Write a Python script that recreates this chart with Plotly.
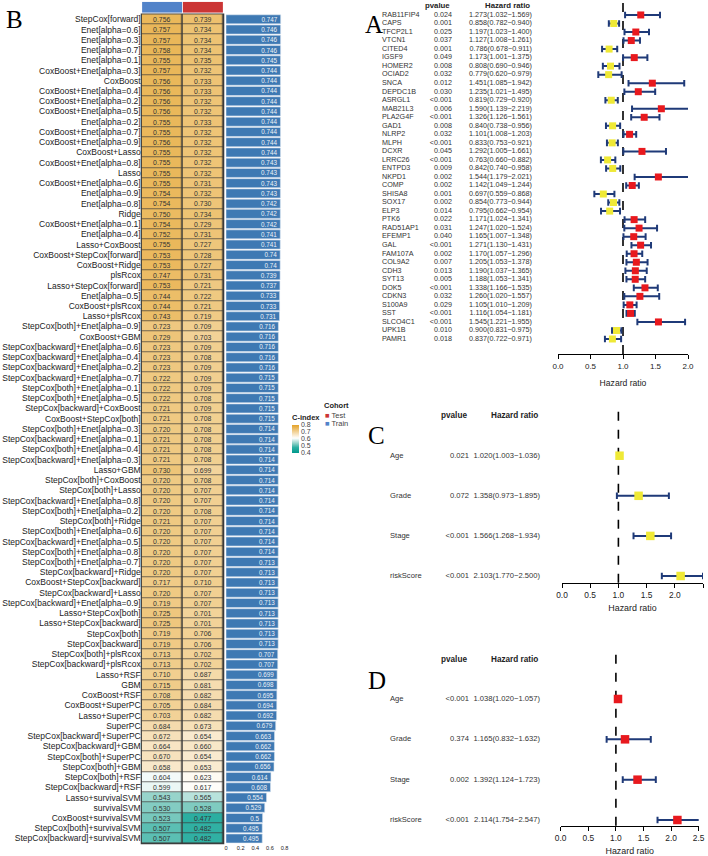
import plotly.graph_objects as go

# ---------------- data: panel B (C-index per model) ----------------
MODELS = [
    "StepCox[forward]", "Enet[alpha=0.6]", "Enet[alpha=0.3]", "Enet[alpha=0.7]", "Enet[alpha=0.1]",
    "CoxBoost+Enet[alpha=0.3]", "CoxBoost", "CoxBoost+Enet[alpha=0.4]", "CoxBoost+Enet[alpha=0.2]",
    "CoxBoost+Enet[alpha=0.5]", "Enet[alpha=0.2]", "CoxBoost+Enet[alpha=0.7]", "CoxBoost+Enet[alpha=0.9]",
    "CoxBoost+Lasso", "CoxBoost+Enet[alpha=0.8]", "Lasso", "CoxBoost+Enet[alpha=0.6]", "Enet[alpha=0.9]",
    "Enet[alpha=0.8]", "Ridge", "CoxBoost+Enet[alpha=0.1]", "Enet[alpha=0.4]", "Lasso+CoxBoost",
    "CoxBoost+StepCox[forward]", "CoxBoost+Ridge", "plsRcox", "Lasso+StepCox[forward]", "Enet[alpha=0.5]",
    "CoxBoost+plsRcox", "Lasso+plsRcox", "StepCox[both]+Enet[alpha=0.9]", "CoxBoost+GBM",
    "StepCox[backward]+Enet[alpha=0.6]", "StepCox[backward]+Enet[alpha=0.4]",
    "StepCox[backward]+Enet[alpha=0.2]", "StepCox[backward]+Enet[alpha=0.7]",
    "StepCox[both]+Enet[alpha=0.1]", "StepCox[both]+Enet[alpha=0.5]", "StepCox[backward]+CoxBoost",
    "CoxBoost+StepCox[both]", "StepCox[both]+Enet[alpha=0.3]", "StepCox[backward]+Enet[alpha=0.1]",
    "StepCox[both]+Enet[alpha=0.4]", "StepCox[backward]+Enet[alpha=0.3]", "Lasso+GBM",
    "StepCox[both]+CoxBoost", "StepCox[both]+Lasso", "StepCox[backward]+Enet[alpha=0.8]",
    "StepCox[both]+Enet[alpha=0.2]", "StepCox[both]+Ridge", "StepCox[both]+Enet[alpha=0.6]",
    "StepCox[backward]+Enet[alpha=0.5]", "StepCox[both]+Enet[alpha=0.8]", "StepCox[both]+Enet[alpha=0.7]",
    "StepCox[backward]+Ridge", "CoxBoost+StepCox[backward]", "StepCox[backward]+Lasso",
    "StepCox[backward]+Enet[alpha=0.9]", "Lasso+StepCox[both]", "Lasso+StepCox[backward]",
    "StepCox[both]", "StepCox[backward]", "StepCox[both]+plsRcox", "StepCox[backward]+plsRcox",
    "Lasso+RSF", "GBM", "CoxBoost+RSF", "CoxBoost+SuperPC", "Lasso+SuperPC", "SuperPC",
    "StepCox[backward]+SuperPC", "StepCox[backward]+GBM", "StepCox[both]+SuperPC", "StepCox[both]+GBM",
    "StepCox[both]+RSF", "StepCox[backward]+RSF", "Lasso+survivalSVM", "survivalSVM",
    "CoxBoost+survivalSVM", "StepCox[both]+survivalSVM", "StepCox[backward]+survivalSVM",
]
TRAIN_CINDEX = [
    0.756, 0.757, 0.757, 0.758, 0.755, 0.757, 0.756, 0.756, 0.756, 0.756, 0.755, 0.755, 0.756, 0.755,
    0.755, 0.755, 0.755, 0.754, 0.754, 0.750, 0.754, 0.752, 0.755, 0.753, 0.753, 0.747, 0.753, 0.744,
    0.744, 0.743, 0.723, 0.729, 0.723, 0.723, 0.723, 0.722, 0.722, 0.722, 0.721, 0.721, 0.720, 0.721,
    0.721, 0.721, 0.730, 0.720, 0.720, 0.720, 0.720, 0.721, 0.720, 0.720, 0.720, 0.720, 0.720, 0.717,
    0.720, 0.719, 0.725, 0.725, 0.719, 0.719, 0.713, 0.713, 0.710, 0.715, 0.708, 0.705, 0.703, 0.684,
    0.672, 0.664, 0.670, 0.658, 0.604, 0.599, 0.543, 0.530, 0.523, 0.507, 0.507,
]
TEST_CINDEX = [
    0.739, 0.734, 0.734, 0.734, 0.735, 0.732, 0.733, 0.733, 0.732, 0.732, 0.733, 0.732, 0.732, 0.732,
    0.732, 0.732, 0.731, 0.732, 0.730, 0.734, 0.729, 0.731, 0.727, 0.728, 0.727, 0.731, 0.721, 0.722,
    0.721, 0.719, 0.709, 0.703, 0.709, 0.708, 0.709, 0.709, 0.709, 0.708, 0.709, 0.708, 0.708, 0.708,
    0.708, 0.708, 0.699, 0.708, 0.707, 0.707, 0.708, 0.707, 0.707, 0.707, 0.707, 0.707, 0.707, 0.710,
    0.707, 0.707, 0.701, 0.701, 0.706, 0.706, 0.702, 0.702, 0.687, 0.681, 0.682, 0.684, 0.682, 0.673,
    0.654, 0.660, 0.654, 0.653, 0.623, 0.617, 0.565, 0.528, 0.477, 0.482, 0.482,
]
MEAN_CINDEX = [
    0.747, 0.746, 0.746, 0.746, 0.745, 0.744, 0.744, 0.744, 0.744, 0.744, 0.744, 0.744, 0.744, 0.744,
    0.743, 0.743, 0.743, 0.743, 0.742, 0.742, 0.742, 0.741, 0.741, 0.74, 0.74, 0.739, 0.737, 0.733,
    0.733, 0.731, 0.716, 0.716, 0.716, 0.716, 0.716, 0.715, 0.715, 0.715, 0.715, 0.715, 0.714, 0.714,
    0.714, 0.714, 0.714, 0.714, 0.714, 0.714, 0.714, 0.714, 0.714, 0.714, 0.714, 0.713, 0.713, 0.713,
    0.713, 0.713, 0.713, 0.713, 0.713, 0.713, 0.707, 0.707, 0.699, 0.698, 0.695, 0.694, 0.692, 0.679,
    0.663, 0.662, 0.662, 0.656, 0.614, 0.608, 0.554, 0.529, 0.5, 0.495, 0.495,
]
COHORTS = ["Train", "Test"]
COHORT_COLORS = {"Train": "#5283C9", "Test": "#CB3535"}

# ---------------- data: panel A (univariate genes) ----------------
GENES = [
    "RAB11FIP4", "CAPS", "TFCP2L1", "VTCN1", "CITED4", "IGSF9", "HOMER2", "OCIAD2", "SNCA", "DEPDC1B",
    "ASRGL1", "MAB21L3", "PLA2G4F", "GAD1", "NLRP2", "MLPH", "DCXR", "LRRC26", "ENTPD3", "NKPD1",
    "COMP", "SHISA8", "SOX17", "ELP3", "PTK6", "RAD51AP1", "EFEMP1", "GAL", "FAM107A", "COL9A2",
    "CDH3", "SYT13", "DOK5", "CDKN3", "S100A9", "SST", "SLCO4C1", "UPK1B", "PAMR1",
]
GENE_PVALUE = [
    "0.024", "0.001", "0.025", "0.037", "0.001", "0.049", "0.008", "0.032", "0.012", "0.030",
    "<0.001", "0.006", "<0.001", "0.008", "0.032", "<0.001", "0.045", "<0.001", "0.009", "0.002",
    "0.002", "0.001", "0.002", "0.014", "0.022", "0.031", "0.040", "<0.001", "0.002", "0.007",
    "0.013", "0.005", "<0.001", "0.032", "0.029", "<0.001", "<0.001", "0.010", "0.018",
]
GENE_HR = [
    1.273, 0.858, 1.197, 1.127, 0.786, 1.173, 0.808, 0.779, 1.451, 1.235, 0.819, 1.590, 1.326, 0.840,
    1.101, 0.833, 1.292, 0.763, 0.842, 1.544, 1.142, 0.697, 0.854, 0.795, 1.171, 1.247, 1.165, 1.271,
    1.170, 1.205, 1.190, 1.188, 1.338, 1.260, 1.105, 1.116, 1.545, 0.900, 0.837,
]
GENE_LOWER = [
    1.032, 0.782, 1.023, 1.008, 0.678, 1.001, 0.690, 0.620, 1.085, 1.021, 0.729, 1.139, 1.126, 0.738,
    1.008, 0.753, 1.005, 0.660, 0.740, 1.179, 1.049, 0.559, 0.773, 0.662, 1.024, 1.020, 1.007, 1.130,
    1.057, 1.053, 1.037, 1.053, 1.166, 1.020, 1.010, 1.054, 1.221, 0.831, 0.722,
]
GENE_UPPER = [
    1.569, 0.940, 1.400, 1.261, 0.911, 1.375, 0.946, 0.979, 1.942, 1.495, 0.920, 2.219, 1.561, 0.956,
    1.203, 0.921, 1.661, 0.882, 0.958, 2.021, 1.244, 0.868, 0.944, 0.954, 1.341, 1.524, 1.348, 1.431,
    1.296, 1.378, 1.365, 1.341, 1.535, 1.557, 1.209, 1.181, 1.955, 0.975, 0.971,
]

# ---------------- data: panels C / D (clinical variables) ----------------
CLIN_VARS = ["Age", "Grade", "Stage", "riskScore"]
UNI_PVALUE = ["0.021", "0.072", "<0.001", "<0.001"]
UNI_HR = [1.020, 1.358, 1.566, 2.103]
UNI_LOWER = [1.003, 0.973, 1.268, 1.770]
UNI_UPPER = [1.036, 1.895, 1.934, 2.500]
MULTI_PVALUE = ["<0.001", "0.374", "0.002", "<0.001"]
MULTI_HR = [1.038, 1.165, 1.392, 2.114]
MULTI_LOWER = [1.020, 0.832, 1.124, 1.754]
MULTI_UPPER = [1.057, 1.632, 1.723, 2.547]

# ---------------- style ----------------
W, H = 708, 856
FONT = "Liberation Sans"
SERIF = "Liberation Serif"
TXT = "#222222"
NAVY = "#1F3A78"
RED = "#E8191E"
YELLOW = "#EFE936"
CINDEX_SCALE = [[0.0, "#00998C"], [0.2, "#2DAFA2"], [0.33, "#86CDC3"],
                [0.53, "#FFFFFF"], [1.0, "#E4A228"]]


def fx(p):
    return p / W


def fy(p):
    return 1 - p / H


fig = go.Figure()
layout = dict(
    width=W, height=H, margin=dict(l=0, r=0, t=0, b=0, autoexpand=False),
    paper_bgcolor="white", plot_bgcolor="rgba(0,0,0,0)",
    font=dict(family=FONT, color=TXT), barmode="overlay", showlegend=False,
    annotations=[], shapes=[],
)

# ================= panel B =================
fig.add_trace(go.Heatmap(
    z=[[tr, te] for tr, te in zip(TRAIN_CINDEX, TEST_CINDEX)],
    x=COHORTS, y=MODELS, coloraxis="coloraxis",
    xgap=1.6, ygap=0.7,
    texttemplate="%{z:.3f}", textfont=dict(family=FONT, size=6.9, color="#333333"),
    hoverinfo="skip", xaxis="x", yaxis="y",
))
# cohort header blocks
for name in COHORTS:
    fig.add_trace(go.Bar(
        x=[name], y=[1], name=name, width=0.98,
        marker=dict(color=COHORT_COLORS[name], line=dict(width=0)),
        xaxis="x2", yaxis="y2", hoverinfo="skip",
    ))
fig.add_trace(go.Bar(
    x=MEAN_CINDEX, y=MODELS, orientation="h", width=0.88,
    marker=dict(color="#3E79B3", line=dict(color="#D5E1EE", width=0.6)),
    text=[f"{v:g}" for v in MEAN_CINDEX], textposition="inside", insidetextanchor="end",
    textfont=dict(family=FONT, size=6.3, color="#EEF2F7"), constraintext="none",
    xaxis="x3", yaxis="y", hoverinfo="x+y",
))

layout["xaxis"] = dict(domain=[fx(141.7), fx(223.3)], type="category", categoryarray=COHORTS,
                       range=[-0.5, 1.5], visible=False, anchor="y", automargin=False)
layout["yaxis"] = dict(domain=[fy(843.6), fy(14.2)], type="category", categoryarray=MODELS,
                       range=[len(MODELS) - 0.5, -0.5], anchor="x", showline=False, ticks="",
                       showgrid=False, automargin=False,
                       tickfont=dict(family=FONT, size=8.5, color=TXT))
layout["xaxis2"] = dict(domain=[fx(141.7), fx(223.3)], type="category", categoryarray=COHORTS,
                        range=[-0.5, 1.5], visible=False, anchor="y2", automargin=False)
layout["yaxis2"] = dict(domain=[fy(12.7), fy(1.7)], range=[0, 1], visible=False, anchor="x2",
                        automargin=False)
layout["xaxis3"] = dict(domain=[fx(226), fx(288.2)], range=[0, 0.85], anchor="y",
                        tickvals=[0, 0.2, 0.4, 0.6, 0.8], ticktext=["0", "0.2", "0.4", "0.6", "0.8"],
                        ticks="", showline=False, showgrid=False, zeroline=False, automargin=False,
                        tickfont=dict(family=FONT, size=5.6, color=TXT))
layout["shapes"].append(dict(type="rect", xref="x domain", yref="y domain", x0=-0.012, x1=1.012,
                             y0=-0.0008, y1=1.0008, fillcolor="#3A3A3A", line=dict(width=0),
                             layer="below"))
layout["coloraxis"] = dict(
    colorscale=CINDEX_SCALE, cmin=0.4, cmax=0.8,
    colorbar=dict(title=dict(text="<b>C-index</b>", side="top", font=dict(family=FONT, size=7.5)),
                  x=fx(292), xanchor="left", y=fy(432), yanchor="middle", len=42, lenmode="pixels",
                  thickness=7, tickvals=[0.4, 0.5, 0.6, 0.7, 0.8], ticks="", outlinewidth=0,
                  xpad=0, ypad=0, tickfont=dict(family=FONT, size=7, color="#444")),
)
# Cohort key (text glyphs, so rows can sit as tight as the reference)
layout["annotations"].append(dict(
    text="<b>Cohort</b>", xref="paper", yref="paper", x=fx(322), y=fy(405), xanchor="left",
    yanchor="middle", showarrow=False, font=dict(family=FONT, size=7.5, color=TXT)))
for i, name in enumerate(["Test", "Train"]):
    layout["annotations"].append(dict(
        text=f"<span style='color:{COHORT_COLORS[name]}'>\u25A0</span> {name}",
        xref="paper", yref="paper", x=fx(323), y=fy(415 + 8.5 * i), xanchor="left",
        yanchor="middle", showarrow=False, font=dict(family=FONT, size=7.5, color="#444")))


# ================= forest panels =================
def add_forest(n, labels, pvals, hr, lo, hi, colors, x_dom, x_max, y_top, y_bot, y_range,
               cols, head_y, sq, fsize, tick_size, title_size, title_gap):
    xa, ya, xt = f"x{n}", f"y{n}", f"x{n + 1}"
    fig.add_trace(go.Scatter(
        x=hr, y=labels, mode="markers",
        marker=dict(symbol="square", size=sq, color=colors, line=dict(width=0)),
        error_x=dict(type="data", symmetric=False,
                     array=[h - m for h, m in zip(hi, hr)],
                     arrayminus=[m - l for m, l in zip(hr, lo)],
                     color=NAVY, thickness=2, width=3.3),
        cliponaxis=False, xaxis=xa, yaxis=ya, hoverinfo="x+y",
    ))
    hr_text = [f"{m:.3f}({l:.3f}\u2212{h:.3f})" for m, l, h in zip(hr, lo, hi)]
    for xs, txt, pos in ((cols[0], labels, "middle right"),
                         (cols[1], pvals, "middle left"),
                         (cols[2], hr_text, "middle left")):
        fig.add_trace(go.Scatter(
            x=[xs] * len(labels), y=labels, mode="text", text=txt, textposition=pos,
            textfont=dict(family=FONT, size=fsize, color="#333333"),
            cliponaxis=False, xaxis=xt, yaxis=ya, hoverinfo="skip",
        ))
    layout[f"xaxis{n}"] = dict(
        domain=[fx(x_dom[0]), fx(x_dom[1])], range=[0, x_max], anchor=ya, automargin=False,
        showline=True, linecolor="black", linewidth=1, ticks="outside", ticklen=4,
        tickcolor="black", tickwidth=1, dtick=0.5, tick0=0, tickformat=".1f",
        showgrid=False, zeroline=False, tickfont=dict(family=FONT, size=tick_size, color=TXT),
        title=dict(text="Hazard ratio", font=dict(family=FONT, size=title_size, color=TXT),
                   standoff=title_gap),
    )
    layout[f"yaxis{n}"] = dict(domain=[fy(y_bot), fy(y_top)], type="category", categoryarray=labels,
                               range=y_range, visible=False, anchor=xa, automargin=False)
    layout[f"xaxis{n + 1}"] = dict(domain=[fx(365), 1], range=[365, W], visible=False, anchor=ya,
                                   automargin=False)
    layout["shapes"].append(dict(type="line", xref=xa, yref=f"{ya} domain", x0=1, x1=1, y0=0, y1=1,
                                 line=dict(color="black", width=1.6, dash="dash"), layer="below"))
    for txt, xr in (("pvalue", cols[1]), ("Hazard ratio", cols[2])):
        layout["annotations"].append(dict(
            text=f"<b>{txt}</b>", xref="paper", yref="paper", x=fx(xr), y=fy(head_y),
            xanchor="right", yanchor="middle", showarrow=False,
            font=dict(family=FONT, size=fsize + 0.6, color=TXT)))


def hr_colors(hr):
    return [RED if v > 1 else YELLOW for v in hr]


add_forest(4, GENES, GENE_PVALUE, GENE_HR, GENE_LOWER, GENE_UPPER, hr_colors(GENE_HR),
           (558, 688), 2.0, 2, 354, [39.76, -1.52], (382, 452, 532), 6, 7, 7.2, 8, 8.6, 10)
add_forest(6, CLIN_VARS, UNI_PVALUE, UNI_HR, UNI_LOWER, UNI_UPPER, [YELLOW] * len(CLIN_VARS),
           (562, 703), 2.5, 409.6, 582.7, [3.167, -1.15], (390, 469, 540), 415.7, 8.5, 7.6, 8.4, 8.9, 5)
add_forest(8, CLIN_VARS, MULTI_PVALUE, MULTI_HR, MULTI_LOWER, MULTI_UPPER, [RED] * len(CLIN_VARS),
           (560.7, 698.7), 2.5, 653, 825.7, [3.141, -1.14], (390, 469, 540), 659, 8.5, 7.6, 8.4, 8.9, 5)

# panel letters
for letter, lx, ly in (("B", 4, 4), ("A", 363, 9), ("C", 366, 420), ("D", 366, 665)):
    layout["annotations"].append(dict(
        text=letter, xref="paper", yref="paper", x=fx(lx), y=fy(ly), xanchor="left", yanchor="top",
        showarrow=False, font=dict(family=SERIF, size=25, color="black")))

fig.update_layout(**layout)
# drop the browser's default 8px body margin so the figure sits flush in the window
fig.write_html("out.html", config={"displayModeBar": False},
               post_script="document.body.style.margin='0';")
